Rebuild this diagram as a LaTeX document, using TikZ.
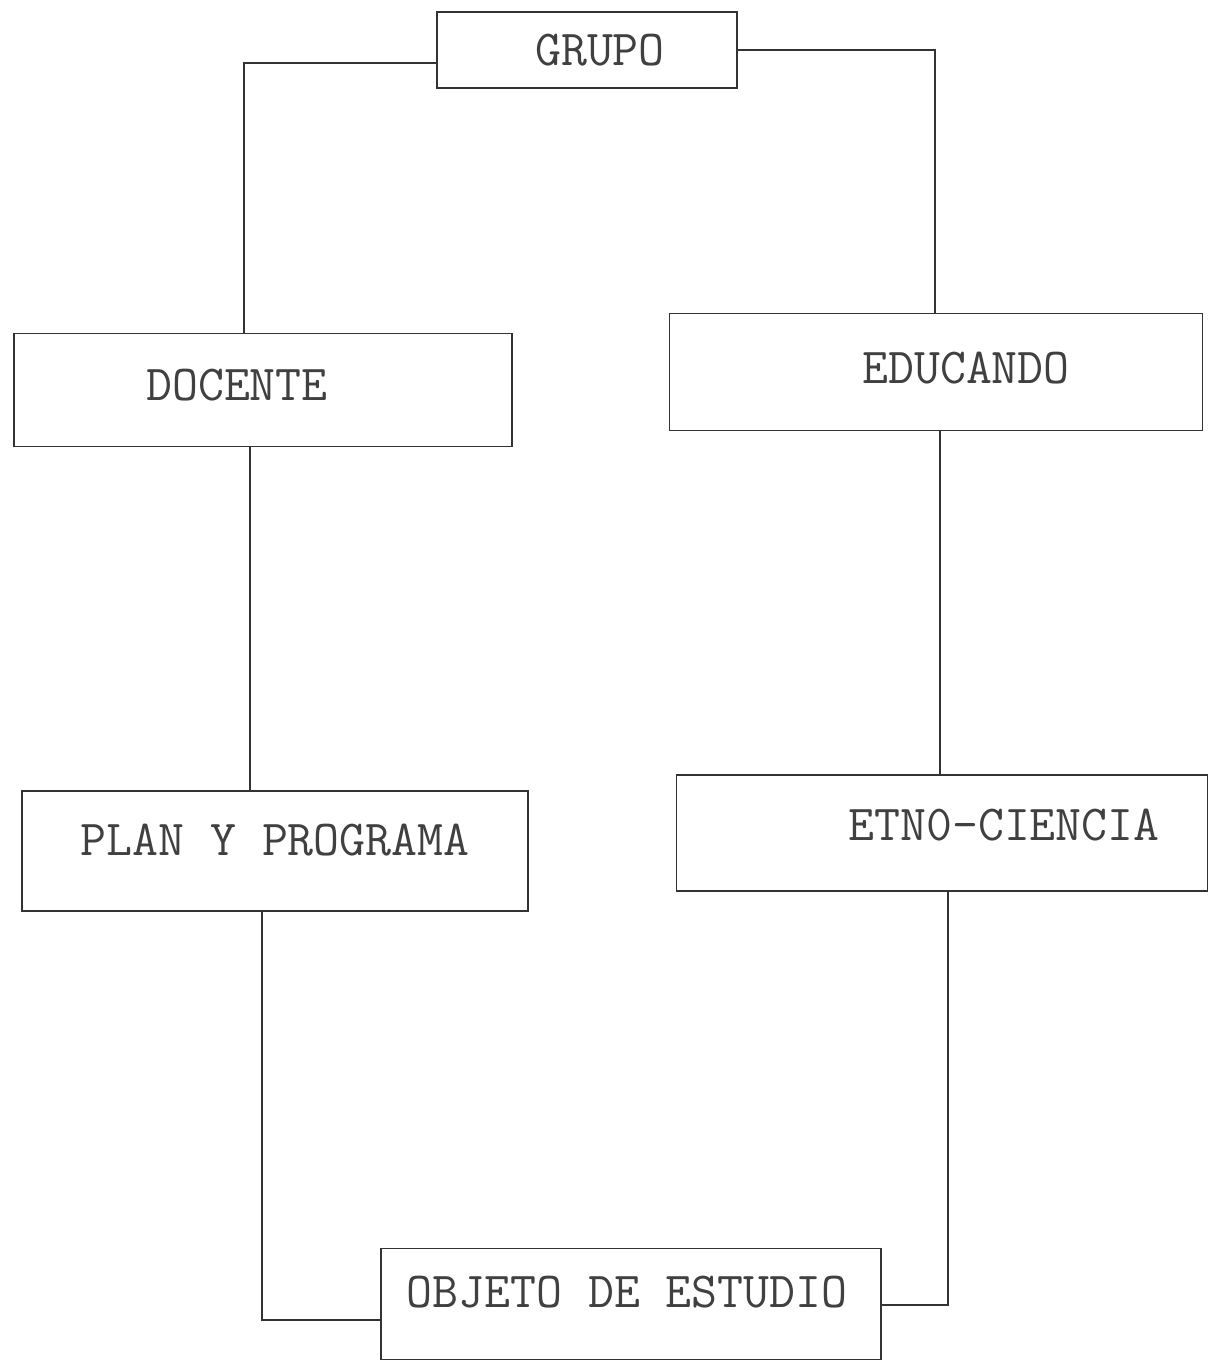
\documentclass[tikz,border=0pt]{standalone}
\usepackage{fontspec}
\begin{document}
\begin{tikzpicture}[x=0.03cm,y=-0.03cm,
  box/.style={draw=black!80, line width=1.5pt, minimum width=#1, inner sep=0pt},
  lbl/.style={font=\ttfamily\fontsize{43}{46}\selectfont, text=black!75, inner sep=0pt},
  link/.style={draw=black!80, line width=1.4pt}]
\useasboundingbox (0,0) rectangle (1208,1360);
% boxes
\node[box=9cm, minimum height=2.28cm] (grupo) at (587,50) {};
\node[box=14.94cm, minimum height=3.39cm] (docente) at (263,390) {};
\node[box=15.99cm, minimum height=3.51cm] (educando) at (936,372) {};
\node[box=15.18cm, minimum height=3.6cm] (plan) at (275,851) {};
\node[box=15.93cm, minimum height=3.48cm] (etno) at (942,833) {};
\node[box=15cm, minimum height=3.33cm] (objeto) at (631,1304) {};
% labels
\node[lbl] (t-grupo) at (600,50) {GRUPO};
\node[lbl] (t-docente) at (237,385) {DOCENTE};
\node[lbl] (t-educando) at (966,368) {EDUCANDO};
\node[lbl] (t-plan) at (275,840) {PLAN Y PROGRAMA};
\node[lbl] (t-etno) at (1004,825) {ETN0-CIENCIA};
\node[lbl] (t-objeto) at (627,1292) {OBJETO DE ESTUDIO};
% corners
\coordinate (c1) at (244,63);
\coordinate (c2) at (935,50);
\coordinate (c3) at (262,1320);
\coordinate (c4) at (948,1305);
% connectors
\draw[link] (c1 -| grupo.west) -- (c1) -- (c1 |- docente.north);
\draw[link] (c2 -| grupo.east) -- (c2) -- (c2 |- educando.north);
\draw[link] (docente.south -| 250,0) -- (plan.north -| 250,0);
\draw[link] (educando.south -| 940,0) -- (etno.north -| 940,0);
\draw[link] (plan.south -| c3) -- (c3) -- (c3 -| objeto.west);
\draw[link] (etno.south -| c4) -- (c4) -- (c4 -| objeto.east);
\end{tikzpicture}
\end{document}
